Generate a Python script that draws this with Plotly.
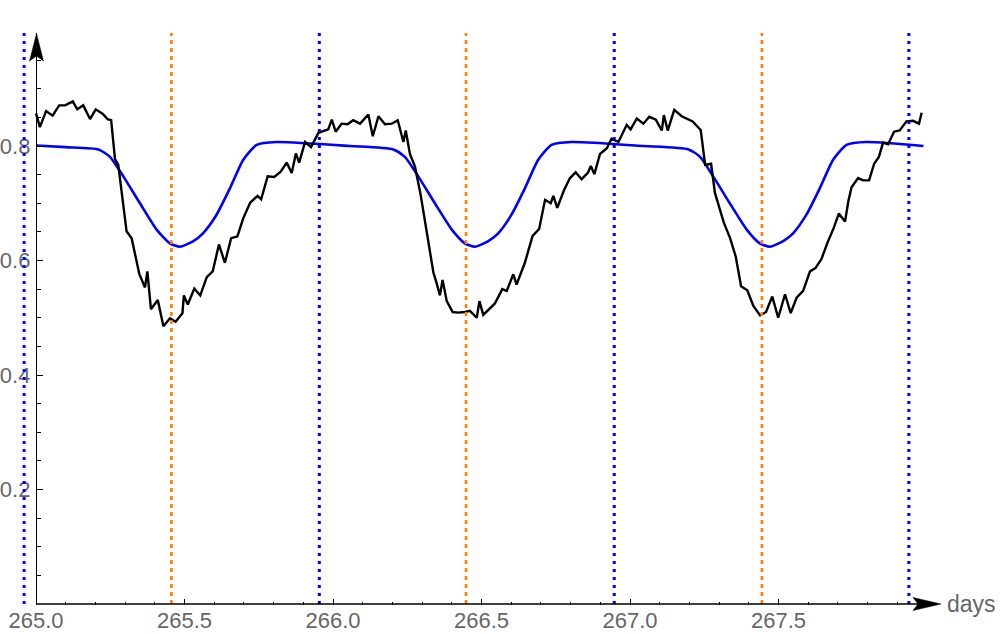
import plotly.graph_objects as go

# ------------------------------------------------------------
# data
# ------------------------------------------------------------
obs_days = [
    265.000, 265.013, 265.034, 265.056, 265.078, 265.098, 265.124, 265.139, 265.159, 265.182,
    265.201, 265.225, 265.241, 265.253, 265.266, 265.277, 265.305, 265.322, 265.348, 265.367,
    265.375, 265.387, 265.410, 265.429, 265.451, 265.470, 265.493, 265.498, 265.511, 265.533,
    265.553, 265.575, 265.595, 265.616, 265.636, 265.657, 265.678, 265.698, 265.721, 265.746,
    265.758, 265.780, 265.802, 265.824, 265.844, 265.861, 265.875, 265.886, 265.906, 265.926,
    265.951, 265.984, 265.996, 266.009, 266.029, 266.049, 266.068, 266.091, 266.119, 266.134,
    266.153, 266.175, 266.198, 266.218, 266.237, 266.245, 266.259, 266.276, 266.295, 266.316,
    266.338, 266.347, 266.360, 266.369, 266.383, 266.403, 266.422, 266.444, 266.461, 266.484,
    266.493, 266.506, 266.526, 266.545, 266.570, 266.585, 266.607, 266.618, 266.646, 266.672,
    266.694, 266.714, 266.733, 266.742, 266.755, 266.778, 266.798, 266.817, 266.837, 266.858,
    266.868, 266.880, 266.899, 266.922, 266.938, 266.961, 266.989, 267.002, 267.023, 267.045,
    267.065, 267.087, 267.107, 267.114, 267.127, 267.149, 267.174, 267.191, 267.211, 267.238,
    267.253, 267.273, 267.286, 267.301, 267.316, 267.337, 267.356, 267.374, 267.395, 267.415,
    267.438, 267.458, 267.479, 267.499, 267.522, 267.541, 267.561, 267.583, 267.606, 267.625,
    267.645, 267.664, 267.686, 267.703, 267.724, 267.735, 267.746, 267.768, 267.785, 267.805,
    267.822, 267.838, 267.852, 267.869, 267.889, 267.908, 267.931, 267.953, 267.973, 267.982,
]
obs_vals = [
    0.857, 0.833, 0.861, 0.853, 0.871, 0.871, 0.878, 0.864, 0.871, 0.847,
    0.864, 0.856, 0.847, 0.845, 0.777, 0.767, 0.651, 0.639, 0.576, 0.553,
    0.581, 0.515, 0.531, 0.485, 0.499, 0.493, 0.508, 0.539, 0.523, 0.551,
    0.539, 0.571, 0.581, 0.628, 0.596, 0.639, 0.642, 0.674, 0.701, 0.713,
    0.707, 0.747, 0.746, 0.755, 0.771, 0.753, 0.787, 0.771, 0.807, 0.798,
    0.823, 0.829, 0.846, 0.825, 0.839, 0.838, 0.845, 0.839, 0.855, 0.817,
    0.852, 0.838, 0.839, 0.845, 0.807, 0.827, 0.786, 0.764, 0.715, 0.648,
    0.579, 0.564, 0.539, 0.566, 0.529, 0.510, 0.509, 0.510, 0.512, 0.500,
    0.529, 0.505, 0.515, 0.525, 0.550, 0.547, 0.576, 0.558, 0.596, 0.643,
    0.655, 0.706, 0.700, 0.713, 0.692, 0.723, 0.744, 0.754, 0.742, 0.753,
    0.765, 0.751, 0.786, 0.796, 0.813, 0.807, 0.837, 0.829, 0.848, 0.839,
    0.851, 0.846, 0.827, 0.854, 0.827, 0.863, 0.852, 0.848, 0.843, 0.828,
    0.767, 0.769, 0.718, 0.692, 0.666, 0.639, 0.607, 0.555, 0.548, 0.521,
    0.504, 0.510, 0.537, 0.500, 0.541, 0.508, 0.535, 0.547, 0.581, 0.587,
    0.603, 0.630, 0.657, 0.682, 0.668, 0.703, 0.728, 0.744, 0.740, 0.740,
    0.769, 0.781, 0.806, 0.803, 0.825, 0.827, 0.843, 0.844, 0.839, 0.858,
]

model_days = [
    265.000, 265.100, 265.210, 265.249, 265.294, 265.350, 265.406, 265.451, 265.485, 265.530,
    265.563, 265.608, 265.653, 265.698, 265.743, 265.810, 266.057, 266.203, 266.242, 266.287,
    266.343, 266.400, 266.444, 266.478, 266.523, 266.557, 266.601, 266.646, 266.691, 266.736,
    266.803, 267.045, 267.197, 267.236, 267.280, 267.336, 267.393, 267.437, 267.471, 267.516,
    267.550, 267.594, 267.639, 267.684, 267.729, 267.796, 267.988,
]
model_vals = [
    0.801, 0.798, 0.794, 0.781, 0.747, 0.700, 0.654, 0.630, 0.624, 0.634,
    0.648, 0.680, 0.726, 0.776, 0.802, 0.807, 0.800, 0.794, 0.781, 0.747,
    0.700, 0.654, 0.630, 0.624, 0.634, 0.648, 0.680, 0.726, 0.776, 0.802,
    0.807, 0.800, 0.794, 0.781, 0.747, 0.700, 0.654, 0.630, 0.624, 0.634,
    0.648, 0.680, 0.726, 0.776, 0.802, 0.807, 0.800,
]

blue_marks = [264.960, 265.954, 266.947, 267.939]
orange_marks = [265.456, 266.448, 267.444]

x_ticks = [265.0, 265.5, 266.0, 266.5, 267.0, 267.5]
x_minor = [265.1, 265.2, 265.3, 265.4, 265.6, 265.7, 265.8, 265.9,
           266.1, 266.2, 266.3, 266.4, 266.6, 266.7, 266.8, 266.9,
           267.1, 267.2, 267.3, 267.4, 267.6, 267.7, 267.8, 267.9]
y_ticks = [0.2, 0.4, 0.6, 0.8]
y_minor = [0.05, 0.1, 0.15, 0.25, 0.3, 0.35, 0.45, 0.5, 0.55,
           0.65, 0.7, 0.75, 0.85, 0.9, 0.95]

# ------------------------------------------------------------
# layout geometry (pixels of the 1000x634 page)
# ------------------------------------------------------------
W, H = 1000, 634
ML, MR, MT, MB = 12, 40, 33, 29
X_RANGE = [264.9192, 268.1111]
Y_RANGE = [-0.00175, 0.99738]
TICK_GREY = "#666666"
FONT = "Liberation Sans, Arial, sans-serif"


def px_to_paper(px, py):
    """page pixel -> paper coords (for the arrow heads only)"""
    return (px - ML) / (W - ML - MR), (H - MB - py) / (H - MT - MB)


def arrow_path(points):
    pts = [px_to_paper(*p) for p in points]
    return "M" + " L".join(f"{x:.5f},{y:.5f}" for x, y in pts) + " Z"


fig = go.Figure()

fig.add_trace(go.Scatter(
    x=model_days, y=model_vals, mode="lines",
    line=dict(color="#0000FF", width=2.6, shape="spline", smoothing=0.6),
    hoverinfo="skip", showlegend=False,
))
fig.add_trace(go.Scatter(
    x=obs_days, y=obs_vals, mode="lines",
    line=dict(color="#000000", width=2.4),
    hoverinfo="skip", showlegend=False,
))

# vertical marker lines
for v in blue_marks:
    fig.add_shape(type="line", xref="x", yref="y", x0=v, x1=v, y0=0, y1=Y_RANGE[1],
                  line=dict(color="#0000FF", width=3, dash="3px,5px"), layer="above")
for v in orange_marks:
    fig.add_shape(type="line", xref="x", yref="y", x0=v, x1=v, y0=0, y1=Y_RANGE[1],
                  line=dict(color="#FF8000", width=2.6, dash="4px,4px"), layer="above")

# x axis line (starts at the y axis) + arrow heads
fig.add_shape(type="line", xref="x", yref="y", x0=265.0, x1=267.97, y0=0, y1=0,
              line=dict(color="black", width=1.3))
fig.add_shape(type="path", xref="paper", yref="paper",
              path=arrow_path([(941, 604), (913, 597.5), (918, 604), (913, 610.5)]),
              fillcolor="black", line=dict(color="black", width=0.5))
fig.add_shape(type="path", xref="paper", yref="paper",
              path=arrow_path([(36.5, 33.5), (29.5, 61), (36.5, 56), (43.5, 61)]),
              fillcolor="black", line=dict(color="black", width=0.5))

fig.add_annotation(text="days", xref="paper", yref="y", x=px_to_paper(945, 0)[0], y=0,
                   xanchor="left", yanchor="middle", showarrow=False,
                   font=dict(family=FONT, size=23, color=TICK_GREY))

y_pos = (265.0 - X_RANGE[0]) / (X_RANGE[1] - X_RANGE[0])

fig.update_layout(
    width=W, height=H,
    margin=dict(l=ML, r=MR, t=MT, b=MB, autoexpand=False),
    paper_bgcolor="white", plot_bgcolor="white",
    font=dict(family=FONT, size=18, color=TICK_GREY),
    xaxis=dict(
        range=X_RANGE, showgrid=False, zeroline=False, showline=False,
        automargin=False,
        tickvals=x_ticks, tickformat=".1f", ticks="inside", ticklen=6,
        tickcolor="black", tickwidth=1,
        minor=dict(tickvals=x_minor, ticks="inside", ticklen=3.5,
                   tickcolor="black", tickwidth=1, showgrid=False),
        tickfont=dict(family=FONT, size=22, color=TICK_GREY),
    ),
    yaxis=dict(
        range=Y_RANGE, showgrid=False, zeroline=False,
        anchor="free", position=y_pos, automargin=False,
        showline=True, linecolor="black", linewidth=1.3,
        tickvals=y_ticks, tickformat=".1f", ticks="inside", ticklen=6,
        tickcolor="black", tickwidth=1, ticklabelstandoff=1,
        minor=dict(tickvals=y_minor, ticks="inside", ticklen=3.5,
                   tickcolor="black", tickwidth=1, showgrid=False),
        tickfont=dict(family=FONT, size=22, color=TICK_GREY),
    ),
)

# the page's default body margin would push the figure 8px right and down
fig.write_html("out.html", config={"displayModeBar": False},
               post_script="document.body.style.margin='0';")
